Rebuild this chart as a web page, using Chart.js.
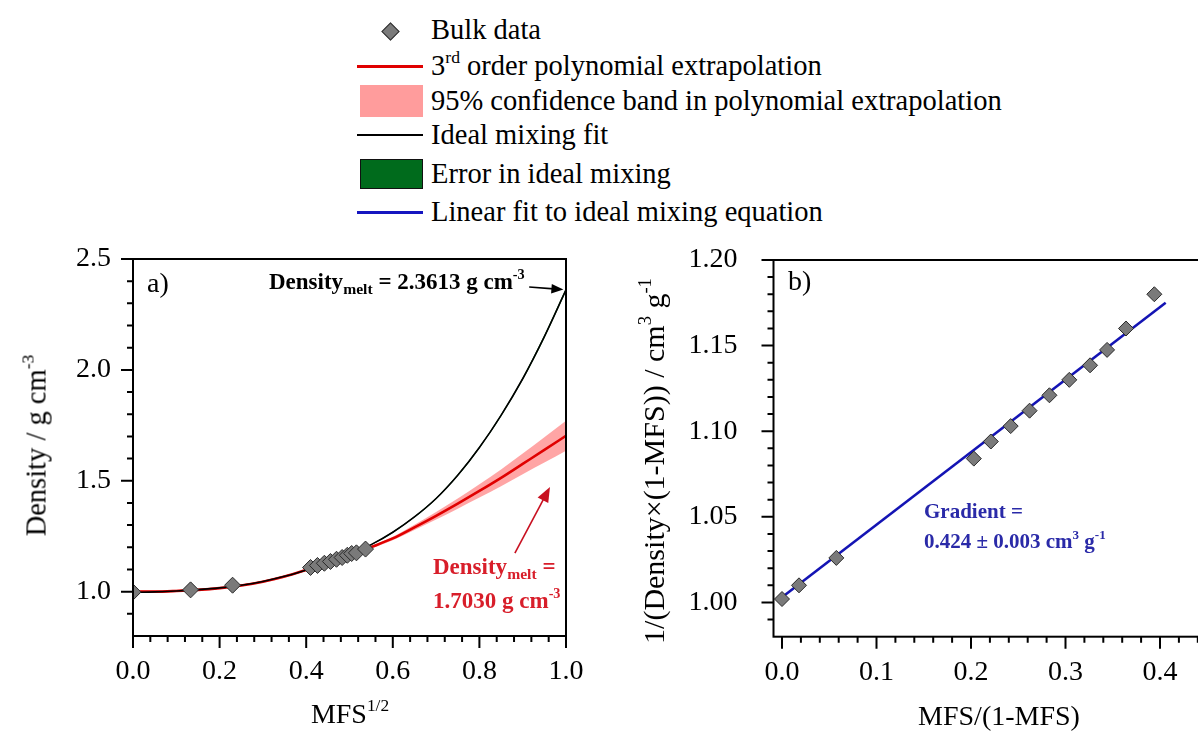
<!DOCTYPE html>
<html><head><meta charset="utf-8">
<script src="https://cdn.jsdelivr.net/npm/chart.js@4.4.1/dist/chart.umd.min.js"></script>
<style>
html,body{margin:0;padding:0;background:#fff;}
body{width:1198px;height:731px;overflow:hidden;position:relative;font-family:"Liberation Serif","Times New Roman",serif;color:#000;}
.abs{position:absolute;white-space:nowrap;}
canvas{position:absolute;}
.leg{position:absolute;left:431px;font-size:28.5px;line-height:36px;height:36px;white-space:nowrap;}
.sup{font-size:0.62em;position:relative;top:-0.7em;}
.sub{font-size:0.68em;position:relative;top:0.3em;}
.bold{font-weight:bold;}
</style></head>
<body>
<!-- legend -->
<div class="abs" style="left:384px;top:25px;width:11px;height:11px;background:#7b7b7b;border:1px solid #333;transform:rotate(45deg);"></div>
<div class="leg" style="top:12px;">Bulk data</div>
<div class="abs" style="left:357px;top:65px;width:66px;height:3px;background:#e00000;"></div>
<div class="leg" style="top:48px;">3<span class="sup">rd</span> order polynomial extrapolation</div>
<div class="abs" style="left:360px;top:85px;width:63px;height:32px;background:#ff9c9c;"></div>
<div class="leg" style="top:83px;">95% confidence band in polynomial extrapolation</div>
<div class="abs" style="left:357px;top:134px;width:66px;height:2px;background:#000;"></div>
<div class="leg" style="top:117px;">Ideal mixing fit</div>
<div class="abs" style="left:360px;top:159px;width:61px;height:28px;background:#006b1c;border:1px solid #111;"></div>
<div class="leg" style="top:156px;">Error in ideal mixing</div>
<div class="abs" style="left:357px;top:211px;width:66px;height:3px;background:#1515c0;"></div>
<div class="leg" style="top:194px;">Linear fit to ideal mixing equation</div>

<canvas id="ca" width="600" height="491" style="left:0;top:240px;width:600px;height:491px;"></canvas>
<canvas id="cb" width="660" height="491" style="left:600px;top:240px;width:660px;height:491px;"></canvas>

<!-- axis titles -->
<div class="abs" style="left:-162px;top:426px;width:400px;text-align:center;font-size:28.5px;line-height:36px;transform:rotate(-90deg);">Density / g cm<span class="sup">-3</span></div>
<div class="abs" style="left:150px;top:696px;width:400px;text-align:center;font-size:28px;line-height:36px;">MFS<span class="sup">1/2</span></div>
<div class="abs" style="left:356px;top:441px;width:600px;text-align:center;font-size:30px;line-height:36px;transform:rotate(-90deg);">1/(Density×(1-MFS)) / cm<span class="sup">3</span> g<span class="sup">-1</span></div>
<div class="abs" style="left:799px;top:698px;width:400px;text-align:center;font-size:28px;line-height:36px;">MFS/(1-MFS)</div>

<!-- annotations -->
<div class="abs" style="left:147px;top:266px;font-size:28px;line-height:34px;">a)</div>
<div class="abs bold" style="left:269px;top:268px;font-size:23px;line-height:28px;">Density<span class="sub">melt</span> = 2.3613 g cm<span class="sup">-3</span></div>
<div class="abs bold" style="left:433px;top:553px;font-size:23px;line-height:28px;color:#d81e2a;">Density<span class="sub">melt</span> =</div>
<div class="abs bold" style="left:433px;top:587px;font-size:23px;line-height:28px;color:#d81e2a;">1.7030 g cm<span class="sup">-3</span></div>
<div class="abs" style="left:788px;top:264px;font-size:28px;line-height:34px;">b)</div>
<div class="abs bold" style="left:924px;top:497px;font-size:21px;line-height:28px;color:#2a2aa8;">Gradient =</div>
<div class="abs bold" style="left:924px;top:527px;font-size:21px;line-height:28px;color:#2a2aa8;">0.424 ± 0.003 cm<span class="sup">3</span> g<span class="sup">-1</span></div>

<script>
// ---------- data ----------
const sGrid       = [0.00,0.05,0.10,0.15,0.20,0.25,0.30,0.35,0.40,0.45,0.50,0.55,0.60,0.65,0.70,0.75,0.80,0.85,0.90,0.95,1.00];
const polyFit     = [1.000,1.000,1.003,1.008,1.016,1.028,1.045,1.068,1.098,1.130,1.164,1.201,1.240,1.290,1.342,1.397,1.454,1.513,1.576,1.639,1.703];
const polyUpper   = [1.006,1.005,1.008,1.013,1.021,1.033,1.050,1.073,1.103,1.135,1.169,1.207,1.248,1.302,1.359,1.420,1.484,1.551,1.623,1.696,1.771];
const polyLower   = [0.994,0.995,0.998,1.003,1.011,1.023,1.040,1.063,1.093,1.125,1.159,1.195,1.232,1.278,1.325,1.374,1.424,1.475,1.529,1.582,1.635];
const idealFit    = [0.997,0.999,1.003,1.009,1.017,1.029,1.046,1.069,1.098,1.131,1.166,1.212,1.268,1.337,1.420,1.525,1.650,1.795,1.960,2.150,2.361];
const idealUpper  = [0.999,1.001,1.005,1.011,1.019,1.031,1.048,1.071,1.100,1.133,1.168,1.214,1.271,1.340,1.423,1.529,1.654,1.800,1.966,2.157,2.369];
const idealLower  = [0.995,0.997,1.001,1.007,1.015,1.027,1.044,1.067,1.096,1.129,1.164,1.210,1.265,1.334,1.417,1.521,1.646,1.790,1.954,2.143,2.353];

const bulkS       = [0.000,0.133,0.230,0.410,0.426,0.442,0.456,0.470,0.483,0.495,0.505,0.516,0.537];
const bulkDensity = [0.998,1.008,1.029,1.109,1.118,1.128,1.136,1.146,1.154,1.164,1.172,1.175,1.192];

const ratioX      = [0.000,0.018,0.0575,0.203,0.221,0.242,0.262,0.283,0.304,0.326,0.344,0.364,0.394];
const inverseY    = [1.002,1.010,1.026,1.084,1.094,1.103,1.112,1.121,1.130,1.1385,1.1475,1.160,1.180];
const linFitX     = [0.000,0.406];
const linFitY     = [1.003,1.175];

const xTicksA = [0.0,0.2,0.4,0.6,0.8,1.0];
const xMinorA = [0.04,0.08,0.12,0.16,0.24,0.28,0.32,0.36,0.44,0.48,0.52,0.56,0.64,0.68,0.72,0.76,0.84,0.88,0.92,0.96];
const yTicksA = [1.0,1.5,2.0,2.5];
const yMinorA = [0.9,1.1,1.2,1.3,1.4,1.6,1.7,1.8,1.9,2.1,2.2,2.3,2.4];
const xTicksB = [0.0,0.1,0.2,0.3,0.4];
const xMinorB = [0.02,0.04,0.06,0.08,0.12,0.14,0.16,0.18,0.22,0.24,0.26,0.28,0.32,0.34,0.36,0.38,0.42,0.44,0.46];
const yTicksB = [1.00,1.05,1.10,1.15,1.20];
const yMinorB = [0.99,1.01,1.02,1.03,1.04,1.06,1.07,1.08,1.09,1.11,1.12,1.13,1.14,1.16,1.17,1.18,1.19];

const pts = (xs, ys) => xs.map((x, i) => ({x, y: ys[i]}));

// ---------- plugin: frame, ticks, arrows ----------
const deco = {
  id: 'deco',
  afterDatasetsDraw(chart, args, o) {
    const {ctx, chartArea: a} = chart;
    const xs = chart.scales.x, ys = chart.scales.y;
    ctx.save();
    ctx.strokeStyle = '#000';
    ctx.lineWidth = 2;
    ctx.strokeRect(a.left, a.top, a.right - a.left, a.bottom - a.top);
    ctx.beginPath();
    o.xMajor.forEach(v => { const p = xs.getPixelForValue(v); ctx.moveTo(p, a.bottom); ctx.lineTo(p, a.bottom + 12); });
    o.xMinor.forEach(v => { const p = xs.getPixelForValue(v); ctx.moveTo(p, a.bottom); ctx.lineTo(p, a.bottom + 6); });
    o.yMajor.forEach(v => { const p = ys.getPixelForValue(v); ctx.moveTo(a.left, p); ctx.lineTo(a.left - 12, p); });
    o.yMinor.forEach(v => { const p = ys.getPixelForValue(v); ctx.moveTo(a.left, p); ctx.lineTo(a.left - 6, p); });
    ctx.stroke();
    (o.arrows || []).forEach(ar => {
      const x1 = xs.getPixelForValue(ar.from[0]), y1 = ys.getPixelForValue(ar.from[1]);
      const x2 = xs.getPixelForValue(ar.to[0]), y2 = ys.getPixelForValue(ar.to[1]);
      const ang = Math.atan2(y2 - y1, x2 - x1);
      ctx.strokeStyle = ar.color; ctx.fillStyle = ar.color; ctx.lineWidth = ar.width;
      ctx.beginPath();
      ctx.moveTo(x1, y1);
      ctx.lineTo(x2 - Math.cos(ang) * ar.head * 0.8, y2 - Math.sin(ang) * ar.head * 0.8);
      ctx.stroke();
      ctx.beginPath();
      ctx.moveTo(x2, y2);
      ctx.lineTo(x2 - Math.cos(ang) * ar.head + Math.sin(ang) * ar.head * 0.4, y2 - Math.sin(ang) * ar.head - Math.cos(ang) * ar.head * 0.4);
      ctx.lineTo(x2 - Math.cos(ang) * ar.head - Math.sin(ang) * ar.head * 0.4, y2 - Math.sin(ang) * ar.head + Math.cos(ang) * ar.head * 0.4);
      ctx.closePath();
      ctx.fill();
    });
    ctx.restore();
  }
};

const tickFont = {family: '"Liberation Serif","Times New Roman",serif', size: 28};

function axis(min, max, ticks, digits, fitProp, fitVal, pad) {
  return {
    type: 'linear', min, max,
    grid: {display: false}, border: {display: false},
    afterBuildTicks: s => { s.ticks = ticks.map(v => ({value: v})); },
    afterFit: s => {
      s[fitProp] = fitVal;
      s.paddingTop = 0; s.paddingBottom = 0; s.paddingLeft = 0; s.paddingRight = 0;
    },
    ticks: {color: '#000', font: tickFont, padding: pad, autoSkip: false, maxRotation: 0,
            callback: v => Number(v).toFixed(digits)}
  };
}

const common = {
  responsive: false, devicePixelRatio: 1, animation: false, events: [],
  plugins: {legend: {display: false}, tooltip: {enabled: false}}
};

new Chart(document.getElementById('ca'), {
  type: 'line',
  data: {
    datasets: [
      {data: pts(bulkS, bulkDensity), showLine: false, pointStyle: 'rectRot', pointRadius: 8,
       backgroundColor: '#7a7a7a', borderColor: '#2a2a2a', pointBorderWidth: 1, order: 0},
      {data: pts(sGrid, idealFit), borderColor: '#000', borderWidth: 1.6, pointRadius: 0,
       cubicInterpolationMode: 'monotone', fill: false, order: 1},
      {data: pts(sGrid, polyFit), borderColor: '#e00000', borderWidth: 2.6, pointRadius: 0,
       cubicInterpolationMode: 'monotone', fill: false, order: 2},
      {data: pts(sGrid, idealUpper), borderWidth: 0, borderColor: 'rgba(0,0,0,0)', pointRadius: 0,
       cubicInterpolationMode: 'monotone', fill: '+1', backgroundColor: '#006b1c', order: 3},
      {data: pts(sGrid, idealLower), borderWidth: 0, borderColor: 'rgba(0,0,0,0)', pointRadius: 0,
       cubicInterpolationMode: 'monotone', fill: false, order: 3},
      {data: pts(sGrid, polyUpper), borderWidth: 0, borderColor: 'rgba(0,0,0,0)', pointRadius: 0,
       cubicInterpolationMode: 'monotone', fill: '+1', backgroundColor: 'rgba(255,110,110,0.62)', order: 4},
      {data: pts(sGrid, polyLower), borderWidth: 0, borderColor: 'rgba(0,0,0,0)', pointRadius: 0,
       cubicInterpolationMode: 'monotone', fill: false, order: 4}
    ]
  },
  options: Object.assign({}, common, {
    layout: {padding: {left: 0, right: 34, top: 19, bottom: 0}},
    scales: {
      x: axis(0, 1, xTicksA, 1, 'height', 95, 11),
      y: axis(0.8, 2.5, yTicksA, 1, 'width', 133, 14)
    },
    plugins: Object.assign({}, common.plugins, {
      deco: {xMajor: xTicksA, xMinor: xMinorA, yMajor: yTicksA, yMinor: yMinorA,
        arrows: [
          {from: [0.915, 2.374], to: [0.994, 2.362], color: '#000', width: 1.6, head: 12},
          {from: [0.882, 1.174], to: [0.963, 1.472], color: '#c81020', width: 1.6, head: 15}
        ]}
    })
  }),
  plugins: [deco]
});

new Chart(document.getElementById('cb'), {
  type: 'line',
  data: {
    datasets: [
      {data: pts(ratioX, inverseY), showLine: false, pointStyle: 'rectRot', pointRadius: 7.5,
       backgroundColor: '#7a7a7a', borderColor: '#2a2a2a', pointBorderWidth: 1, order: 0},
      {data: pts(linFitX, linFitY), borderColor: '#1414b4', borderWidth: 2.6, pointRadius: 0, fill: false, order: 1}
    ]
  },
  options: Object.assign({}, common, {
    layout: {padding: {left: 0, right: 24.4, top: 20, bottom: 0}},
    scales: {
      x: axis(-0.009, 0.48, xTicksB, 1, 'height', 94.3, 11),
      y: axis(0.98, 1.20, yTicksB, 2, 'width', 173.5, 28)
    },
    plugins: Object.assign({}, common.plugins, {
      deco: {xMajor: xTicksB, xMinor: xMinorB, yMajor: yTicksB, yMinor: yMinorB, arrows: []}
    })
  }),
  plugins: [deco]
});
</script>
</body></html>
